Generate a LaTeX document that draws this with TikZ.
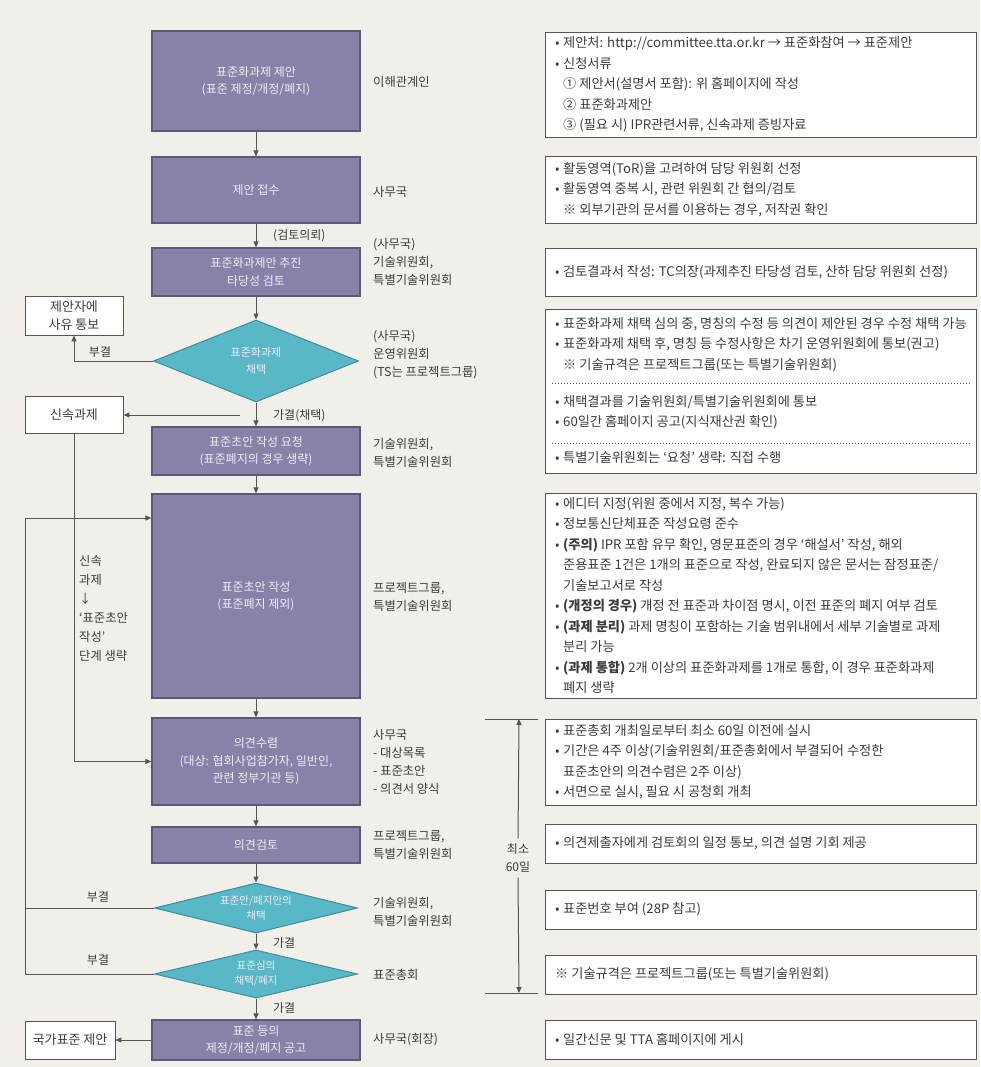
\documentclass[tikz,border=0pt]{standalone}
\usepackage{fontspec}
\setmainfont{Noto Sans CJK KR}
\usetikzlibrary{arrows.meta,shapes.geometric,calc}
\definecolor{bg}{HTML}{F2EFEB}
\definecolor{purp}{HTML}{8A80A8}
\definecolor{purpd}{HTML}{5F5775}
\definecolor{cyanf}{HTML}{58B8C8}
\definecolor{cyand}{HTML}{3E8E9A}
\definecolor{ink}{HTML}{3C3C3C}
\definecolor{lnc}{HTML}{555555}
\definecolor{ptext}{HTML}{F0ECF6}
\newcommand\rbul{\makebox[8pt][l]{•}}
\newcommand\rind{\hspace*{8pt}}
\begin{document}
\begin{tikzpicture}[x=1pt,y=-1pt,
  pbox/.style={draw=purpd, fill=purp, line width=1.1pt, text=ptext, minimum width=208pt, align=center, font=\fontsize{12}{17.5}\selectfont, inner sep=2pt},
  dia/.style={diamond, draw=cyand, fill=cyanf, line width=1pt, text=ptext, align=center, inner sep=0pt},
  wbox/.style={draw=lnc, fill=white, line width=0.9pt, text=ink, align=center, font=\fontsize{13}{18}\selectfont, inner sep=1pt},
  rbox/.style={draw=lnc, fill=white, line width=1pt, anchor=north west, minimum width=431pt},
  rtext/.style={text=ink, align=left, anchor=west, font=\fontsize{13.2}{20.5}\selectfont, inner sep=0pt},
  role/.style={text=ink, align=left, anchor=west, font=\fontsize{12.3}{18}\selectfont, inner sep=0pt},
  lab/.style={text=ink, font=\fontsize{12}{15}\selectfont, inner sep=0pt},
  arr/.style={draw=lnc, line width=1pt, -{Triangle[length=6pt,width=5pt]}},
  ln/.style={draw=lnc, line width=1pt}
]
\useasboundingbox (0,0) rectangle (980,1067);
\fill[bg] (0,0) rectangle (980,1067);

% main flow
\node[pbox, minimum height=100pt] (b1) at (256,81) {표준화과제 제안\\(표준 제정/개정/폐지)};
\node[pbox, minimum height=66pt] (b2) at (256,190) {제안 접수};
\node[pbox, minimum height=48pt] (b3) at (256,272) {표준화과제안 추진\\타당성 검토};
\node[dia, minimum width=205pt, minimum height=82pt, aspect=2.5, font=\fontsize{11}{17}\selectfont] (d1) at (256,361) {표준화과제\\채택};
\node[pbox, minimum height=48pt] (b4) at (256,451) {표준초안 작성 요청\\(표준폐지의 경우 생략)};
\node[pbox, minimum height=204pt] (b5) at (256,596) {표준초안 작성\\(표준폐지 제외)};
\node[pbox, minimum height=87pt] (b6) at (256,761.5) {의견수렴\\(대상: 협회사업참가자, 일반인,\\관련 정부기관 등)};
\node[pbox, minimum height=36pt] (b7) at (256,845) {의견검토};
\node[dia, minimum width=203pt, minimum height=50pt, aspect=4, font=\fontsize{10.5}{15}\selectfont] (d2) at (256,908) {표준안/폐지안의\\채택};
\node[dia, minimum width=203pt, minimum height=48pt, aspect=4, font=\fontsize{10.5}{15}\selectfont] (d3) at (256,974) {표준심의\\채택/폐지};
\node[pbox, minimum height=40pt] (b8) at (256,1040) {표준 등의\\제정/개정/폐지 공고};

% left boxes
\node[wbox, minimum width=98pt, minimum height=39pt] (l1) at (74,315.5) {제안자에\\사유 통보};
\node[wbox, minimum width=98pt, minimum height=37pt] (l2) at (74,415) {신속과제};
\node[wbox, minimum width=90pt, minimum height=38pt] (l3) at (70,1040) {국가표준 제안};

% connectors
\draw[arr] (b1.south) -- (b2.north);
\draw[arr] (b2.south) -- (b3.north);
\draw[arr] (b3.south) -- (d1.north);
\draw[arr] (d1.west) -| (l1.south);
\draw[arr] (d1.south) -- (b4.north);
\coordinate (br) at (240,415);
\draw[arr] (br) -- (l2.east);
\draw[arr] (b4.south) -- (b5.north);
\draw[arr] (l2.south) |- (b6.west);
\draw[arr] (b5.south) -- (b6.north);
\draw[arr] (b6.south) -- (b7.north);
\draw[arr] (b7.south) -- (d2.north);
\draw[arr] (d2.south) -- (d3.north);
\draw[arr] (d3.south) -- (b8.north);
\draw[arr] (b8.west) -- (l3.east);
\coordinate (lp) at (25,518);
\draw[arr] (d3.west) -| (lp) -- (lp -| b5.west);
\draw[ln] (d2.west) -- (d2.west -| lp);

% connector labels
\node[lab, anchor=west] (q1) at (273,236) {(검토의뢰)};
\node[lab] (q2) at (100,352) {부결};
\node[lab, anchor=west] (q3) at (273,416) {가결(채택)};
\node[lab] (q4) at (98,897) {부결};
\node[lab] (q5) at (98,960) {부결};
\node[lab, anchor=west] (q6) at (273,943) {가결};
\node[lab, anchor=west] (q7) at (273,1008) {가결};
\node[lab, anchor=west, align=left, font=\fontsize{12.3}{19}\selectfont] (q8) at (79,608) {신속\\과제\\↓\\‘표준초안\\작성’\\단계 생략};

% roles
\node[role] (r1) at (373,82) {이해관계인};
\node[role] (r2) at (373,192) {사무국};
\node[role] (r3) at (373,245) {(사무국)};
\node[role] (r4) at (373,271) {기술위원회,\\특별기술위원회};
\node[role] (r5) at (373,337) {(사무국)};
\node[role] (r6) at (373,364) {운영위원회\\(TS는 프로젝트그룹)};
\node[role] (r7) at (373,453) {기술위원회,\\특별기술위원회};
\node[role] (r8) at (373,597) {프로젝트그룹,\\특별기술위원회};
\node[role] (r9) at (373,762) {사무국\\- 대상목록\\- 표준초안\\- 의견서 양식};
\node[role] (r10) at (373,845) {프로젝트그룹,\\특별기술위원회};
\node[role] (r11) at (373,912) {기술위원회,\\특별기술위원회};
\node[role] (r12) at (373,975) {표준총회};
\node[role] (r13) at (373,1040) {사무국(회장)};

% minimum 60 days dimension
\draw[ln] (485,719) -- (538,719);
\draw[ln] (485,993) -- (538,993);
\coordinate (dT) at (519,719);
\coordinate (dB) at (519,993);
\node[lab, align=center, inner ysep=5pt, font=\fontsize{12}{18}\selectfont] (dl) at (518,858) {최소\\60일};
\draw[arr] (dl.north) -- (dT);
\draw[arr] (dl.south) -- (dB);

% right info boxes
\node[rbox, minimum height=105pt] (rA) at (545,32) {};
\node[rtext] (tA) at (555,84.5) {\rbul 제안처: http://committee.tta.or.kr → 표준화참여 → 표준제안\\
\rbul 신청서류\\
\rind ① 제안서(설명서 포함): 위 홈페이지에 작성\\
\rind ② 표준화과제안\\
\rind ③ (필요 시) IPR관련서류, 신속과제 증빙자료};

\node[rbox, minimum height=67pt] (rB) at (545,156) {};
\node[rtext] (tB) at (555,189.5) {\rbul 활동영역(ToR)을 고려하여 담당 위원회 선정\\
\rbul 활동영역 중복 시, 관련 위원회 간 협의/검토\\
\rind ※ 외부기관의 문서를 이용하는 경우, 저작권 확인};

\node[rbox, minimum height=48pt] (rC) at (545,248) {};
\node[rtext] (tC) at (555,272) {\rbul 검토결과서 작성: TC의장(과제추진 타당성 검토, 산하 담당 위원회 선정)};

\node[rbox, minimum height=164pt] (rD) at (545,309) {};
\draw[lnc, line width=1pt, dotted] (552,383) -- (970,383);
\draw[lnc, line width=1pt, dotted] (552,443) -- (970,443);
\node[rtext] (tD1) at (555,344.5) {\rbul 표준화과제 채택 심의 중, 명칭의 수정 등 의견이 제안된 경우 수정 채택 가능\\
\rbul 표준화과제 채택 후, 명칭 등 수정사항은 차기 운영위원회에 통보(권고)\\
\rind ※ 기술규격은 프로젝트그룹(또는 특별기술위원회)};
\node[rtext] (tD2) at (555,412.5) {\rbul 채택결과를 기술위원회/특별기술위원회에 통보\\
\rbul 60일간 홈페이지 공고(지식재산권 확인)};
\node[rtext] (tD3) at (555,458) {\rbul 특별기술위원회는 ‘요청’ 생략: 직접 수행};

\node[rbox, minimum height=205pt] (rE) at (545,493) {};
\node[rtext] (tE) at (555,595.5) {\rbul 에디터 지정(위원 중에서 지정, 복수 가능)\\
\rbul 정보통신단체표준 작성요령 준수\\
\rbul {\bfseries (주의)} IPR 포함 유무 확인, 영문표준의 경우 ‘해설서’ 작성, 해외\\
\rind 준용표준 1건은 1개의 표준으로 작성, 완료되지 않은 문서는 잠정표준/\\
\rind 기술보고서로 작성\\
\rbul {\bfseries (개정의 경우)} 개정 전 표준과 차이점 명시, 이전 표준의 폐지 여부 검토\\
\rbul {\bfseries (과제 분리)} 과제 명칭이 포함하는 기술 범위내에서 세부 기술별로 과제\\
\rind 분리 가능\\
\rbul {\bfseries (과제 통합)} 2개 이상의 표준화과제를 1개로 통합, 이 경우 표준화과제\\
\rind 폐지 생략};

\node[rbox, minimum height=86pt] (rF) at (545,719) {};
\node[rtext] (tF) at (555,762) {\rbul 표준총회 개최일로부터 최소 60일 이전에 실시\\
\rbul 기간은 4주 이상(기술위원회/표준총회에서 부결되어 수정한\\
\rind 표준초안의 의견수렴은 2주 이상)\\
\rbul 서면으로 실시, 필요 시 공청회 개최};

\node[rbox, minimum height=39pt] (rG) at (545,824) {};
\node[rtext] (tG) at (555,843.5) {\rbul 의견제출자에게 검토회의 일정 통보, 의견 설명 기회 제공};

\node[rbox, minimum height=39pt] (rH) at (545,890) {};
\node[rtext] (tH) at (555,909.5) {\rbul 표준번호 부여 (28P 참고)};

\node[rbox, minimum height=39pt] (rI) at (545,955) {};
\node[rtext] (tI) at (555,974.5) {※ 기술규격은 프로젝트그룹(또는 특별기술위원회)};

\node[rbox, minimum height=39pt] (rJ) at (545,1020) {};
\node[rtext] (tJ) at (555,1039.5) {\rbul 일간신문 및 TTA 홈페이지에 게시};
\end{tikzpicture}
\end{document}
